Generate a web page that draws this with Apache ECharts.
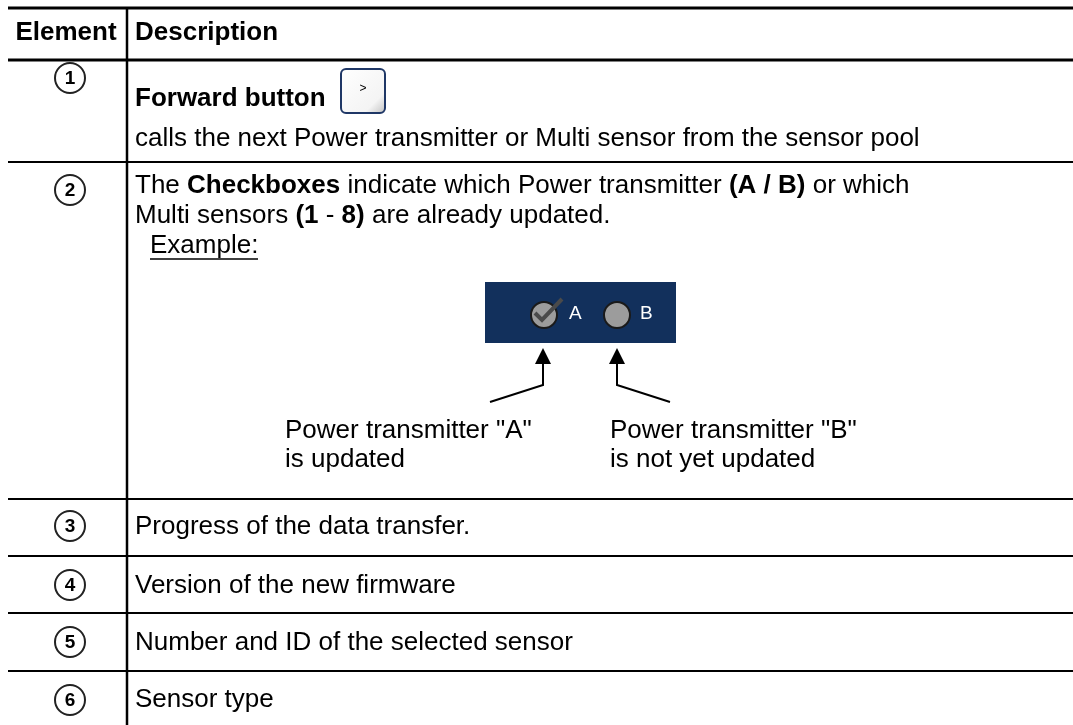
<!DOCTYPE html>
<html><head><meta charset="utf-8">
<script src="https://cdn.jsdelivr.net/npm/echarts@6/dist/echarts.min.js"></script>
<style>html,body{margin:0;padding:0;background:#fff}#c{width:1073px;height:725px}</style>
</head><body><div id="c"></div>
<script>
// ---- content ----
const headers = ['Element', 'Description'];
const elementNumbers = ['1', '2', '3', '4', '5', '6'];
const row1Title = 'Forward button';
const row1Text = 'calls the next Power transmitter or Multi sensor from the sensor pool';
const row2Lines = [
  'The {b|Checkboxes} indicate which Power transmitter {b|(A / B)} or which',
  'Multi sensors {b|(1} - {b|8)} are already updated.'
];
const exampleLabel = 'Example:';
const checkboxLabels = ['A', 'B'];
const calloutA = ['Power transmitter "A"', 'is updated'];
const calloutB = ['Power transmitter "B"', 'is not yet updated'];
const simpleRows = ['Progress of the data transfer.', 'Version of the new firmware', 'Number and ID of the selected sensor', 'Sensor type'];

// ---- layout ----
const FF = '"Liberation Sans", Arial, sans-serif';
const FS = 26;
const L = 8, R = 1073, COLX = 127, TX = 135;
const rowLineYs = [162, 499, 556, 613, 671];
const circleYs = [78, 190, 526, 585, 642, 700];
const rowTextYs = [527, 586, 643, 700];
const g = [];
function hline(y, w) { g.push({type:'line', shape:{x1:L, y1:y, x2:R, y2:y}, style:{stroke:'#000', lineWidth:w}}); }
function txt(x, y, s, opt) {
  const o = Object.assign({size:FS, weight:'normal', fill:'#000', align:'left'}, opt || {});
  g.push({type:'text', x:x, y:y, style:{text:s, fill:o.fill, font:o.weight + ' ' + o.size + 'px ' + FF,
    verticalAlign:'middle', align:o.align,
    rich:{b:{font:'bold ' + o.size + 'px ' + FF, fill:o.fill}}}});
}
hline(8, 3); hline(60, 3);
rowLineYs.forEach(y => hline(y, 2));
g.push({type:'line', shape:{x1:COLX, y1:8, x2:COLX, y2:725}, style:{stroke:'#000', lineWidth:2.5}});
txt(66, 33, headers[0], {align:'center', weight:'bold'});
txt(TX, 33, headers[1], {weight:'bold'});
elementNumbers.forEach((n, i) => {
  g.push({type:'circle', shape:{cx:70, cy:circleYs[i], r:15}, style:{fill:'#fff', stroke:'#222', lineWidth:2}});
  txt(70, circleYs[i] + 1, n, {align:'center', weight:'bold', size:19});
});
// row 1
txt(TX, 99, row1Title, {weight:'bold'});
g.push({type:'rect', shape:{x:341, y:69, width:44, height:44, r:5}, style:{fill:{type:'linear', x:0, y:0, x2:1, y2:1, colorStops:[{offset:0, color:'#ffffff'}, {offset:0.75, color:'#f4f4f4'}, {offset:1, color:'#bdbdbd'}]}, stroke:'#1f3766', lineWidth:2}});
txt(363, 89, '>', {align:'center', size:12});
txt(TX, 139, row1Text);
// row 2
row2Lines.forEach((s, i) => txt(TX, 186 + i * 30, s));
txt(150, 246, exampleLabel);
g.push({type:'line', shape:{x1:150, y1:259, x2:258, y2:259}, style:{stroke:'#000', lineWidth:1.5}});
g.push({type:'rect', shape:{x:485, y:282, width:191, height:61}, style:{fill:'#12305c'}});
g.push({type:'circle', shape:{cx:544, cy:315, r:13}, style:{fill:'#9c9c9c', stroke:'#1a1a1a', lineWidth:2}});
g.push({type:'polyline', shape:{points:[[535,313],[542,320],[562,299]]}, style:{stroke:'#4a4a4a', lineWidth:4, fill:null}});
g.push({type:'circle', shape:{cx:617, cy:315, r:13}, style:{fill:'#9c9c9c', stroke:'#1a1a1a', lineWidth:2}});
txt(569, 314, checkboxLabels[0], {fill:'#fff', size:19});
txt(640, 314, checkboxLabels[1], {fill:'#fff', size:19});
// arrows
[[543, 490], [617, 670]].forEach(([ax, ex]) => {
  g.push({type:'polyline', shape:{points:[[ax,360],[ax,385],[ex,402]]}, style:{stroke:'#000', lineWidth:2, fill:null}});
  g.push({type:'polygon', shape:{points:[[ax,348],[ax-8,364],[ax+8,364]]}, style:{fill:'#000'}});
});
calloutA.forEach((s, i) => txt(285, 431 + i * 29, s));
calloutB.forEach((s, i) => txt(610, 431 + i * 29, s));
// rows 3-6
simpleRows.forEach((s, i) => txt(TX, rowTextYs[i], s));

const chart = echarts.init(document.getElementById('c'), null, {renderer:'canvas'});
chart.setOption({animation:false, graphic:{elements:g}});
</script></body></html>
